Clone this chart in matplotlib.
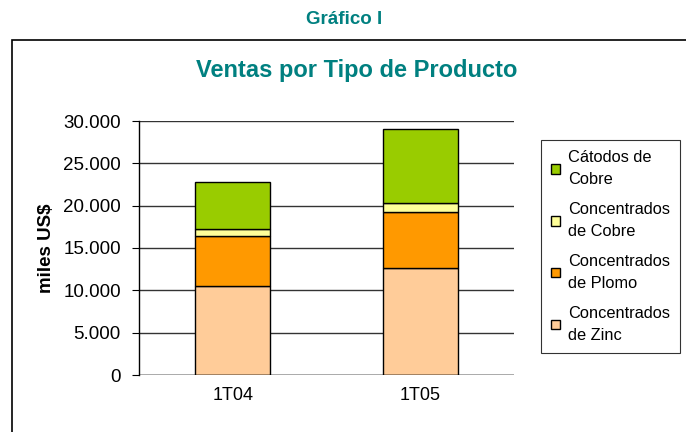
import numpy as np
import matplotlib.pyplot as plt
from matplotlib.patches import Rectangle
from matplotlib.ticker import FuncFormatter

plt.rcParams['font.family'] = ['Liberation Sans', 'DejaVu Sans']

""" Data """
periods = ['1T04', '1T05']
zinc = [10500, 12600]
plomo = [5900, 6600]
conc_cobre = [900, 1100]
catodos = [5500, 8700]

series = [
    ('Concentrados\nde Zinc', zinc, '#FFCC99'),
    ('Concentrados\nde Plomo', plomo, '#FF9900'),
    ('Concentrados\nde Cobre', conc_cobre, '#FFFF99'),
    ('Cátodos de\nCobre', catodos, '#99CC00'),
]

W, H = 686, 432
fig = plt.figure(figsize=(W / 100, H / 100), dpi=100)
teal = '#008080'

# outer chart frame
fig.patches.append(Rectangle((12 / W, -0.05), 1.0, (H - 40) / H + 0.05,
                             transform=fig.transFigure, fill=False,
                             edgecolor='black', linewidth=1.2))
fig.text(344 / W, 1 - 19 / H, 'Gráfico I', ha='center', va='center',
         fontsize=13.5, fontweight='bold', color=teal)
fig.text(357 / W, 1 - 70 / H, 'Ventas por Tipo de Producto', ha='center',
         va='center', fontsize=17, fontweight='bold', color=teal)

ax = fig.add_axes([139 / W, (H - 375) / H, 375 / W, 254 / H])
x = np.arange(len(periods))
bottom = np.zeros(len(periods))
handles = []
for name, vals, col in series:
    b = ax.bar(x, vals, 0.4, bottom=bottom, color=col, edgecolor='black',
               linewidth=1.0, label=name, zorder=3)
    handles.append(b)
    bottom += np.array(vals)

ax.set_xlim(-0.5, 1.5)
ax.set_ylim(0, 30000)
ax.set_yticks(np.arange(0, 30001, 5000))
ax.yaxis.set_major_formatter(FuncFormatter(lambda v, p: f'{int(v):,}'.replace(',', '.')))
ax.set_xticks(x)
ax.set_xticklabels(periods)
ax.tick_params(axis='y', labelsize=13.5, colors='black', length=5,
               direction='out', pad=8)
ax.tick_params(axis='x', labelsize=13, length=0, pad=9)
ax.grid(axis='y', color='#333333', linewidth=1.0, zorder=0)
for s in ['top', 'right', 'bottom']:
    ax.spines[s].set_visible(False)
ax.spines['left'].set_linewidth(1.0)
ax.axhline(0, color='black', linewidth=1.0, zorder=4)
ax.set_ylabel('miles US$', fontsize=13.5, fontweight='bold', labelpad=6)

leg = fig.legend(handles[::-1], [s[0] for s in series][::-1],
                 loc='upper left', bbox_to_anchor=(541 / W, 1 - 140 / H),
                 fontsize=11.8, frameon=True, fancybox=False, edgecolor='black',
                 handlelength=0.55, handleheight=0.55, handletextpad=0.5,
                 labelspacing=0.9, borderpad=0.6, borderaxespad=0)
leg.get_frame().set_linewidth(0.8)
for t in leg.get_texts():
    t.set_linespacing(1.6)

fig.savefig('out.png', dpi=100)
